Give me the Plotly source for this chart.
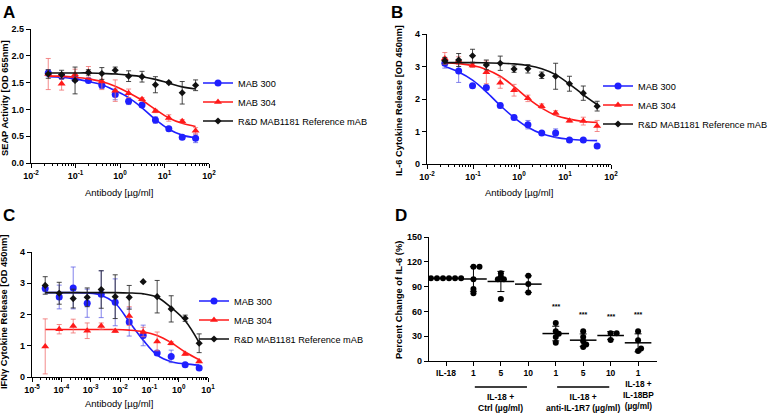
import numpy as np
import plotly.graph_objects as go

FONT = "Liberation Sans, Arial, sans-serif"
W, H = 777, 414

# ---------------- panel A : SEAP activity ----------------
conc_ab = [0.0244, 0.0488, 0.0977, 0.195, 0.391, 0.781, 1.5625, 3.125, 6.25, 12.5, 25, 50]

a_mab300 = [1.68, 1.62, 1.57, 1.54, 1.45, 1.28, 1.15, 1.08, 0.80, 0.64, 0.48, 0.46]
a_mab300_sd = [0.06, 0.05, 0.05, 0.04, 0.06, 0.10, 0.06, 0.03, 0.06, 0.04, 0.04, 0.08]
a_mab300_fit = [1.61, 1.60, 1.57, 1.52, 1.46, 1.35, 1.22, 1.03, 0.81, 0.63, 0.52, 0.47]

a_mab304 = [1.66, 1.48, 1.65, 1.70, 1.52, 1.35, 1.30, 1.19, 0.97, 0.84, 0.78, 0.60]
a_mab304_sd = [0.29, 0.12, 0.10, 0.10, 0.15, 0.20, 0.08, 0.03, 0.03, 0.06, 0.03, 0.06]
a_mab304_fit = [1.62, 1.62, 1.60, 1.57, 1.52, 1.43, 1.31, 1.17, 1.00, 0.84, 0.74, 0.68]

a_ref = [1.66, 1.65, 1.54, 1.69, 1.67, 1.73, 1.62, 1.61, 1.46, 1.50, 1.31, 1.45]
a_ref_sd = [0.08, 0.08, 0.25, 0.05, 0.11, 0.06, 0.10, 0.10, 0.15, 0.02, 0.21, 0.10]
a_ref_fit = [1.68, 1.68, 1.68, 1.68, 1.67, 1.66, 1.64, 1.61, 1.56, 1.49, 1.42, 1.38]

# ---------------- panel B : IL-6 release ----------------
b_mab300 = [3.10, 2.86, 2.41, 2.35, 1.80, 1.43, 1.21, 0.95, 0.95, 0.74, 0.74, 0.55]
b_mab300_sd = [0.15, 0.35, 0.06, 0.07, 0.07, 0.07, 0.13, 0.04, 0.13, 0.04, 0.04, 0.03]
b_mab300_fit = [3.00, 2.83, 2.58, 2.22, 1.80, 1.43, 1.13, 0.93, 0.82, 0.76, 0.73, 0.72]

b_mab304 = [3.25, 3.18, 3.03, 2.82, 2.50, 2.27, 2.02, 1.78, 1.57, 1.33, 1.32, 1.17]
b_mab304_sd = [0.18, 0.12, 0.06, 0.35, 0.17, 0.18, 0.10, 0.07, 0.07, 0.04, 0.12, 0.17]
b_mab304_fit = [3.12, 3.09, 3.03, 2.91, 2.70, 2.38, 2.02, 1.72, 1.50, 1.38, 1.31, 1.28]

b_ref = [3.18, 3.20, 3.33, 3.05, 3.10, 2.92, 2.93, 2.73, 2.70, 2.47, 2.18, 1.78]
b_ref_sd = [0.10, 0.20, 0.20, 0.15, 0.22, 0.10, 0.13, 0.10, 0.40, 0.23, 0.22, 0.15]
b_ref_fit = [3.12, 3.12, 3.12, 3.11, 3.10, 3.08, 3.03, 2.93, 2.75, 2.46, 2.13, 1.83]

# ---------------- panel C : IFNy release ----------------
conc_c = [2.82e-5, 8.47e-5, 2.54e-4, 7.62e-4, 0.00229, 0.00686, 0.0206, 0.0617, 0.185, 0.556, 1.667, 5.0]

c_mab300 = [2.83, 2.56, 2.85, 2.36, 2.65, 2.39, 1.76, 1.33, 0.77, 0.66, 0.39, 0.29]
c_mab300_sd = [0.10, 0.38, 0.67, 0.45, 0.75, 0.75, 0.45, 0.33, 0.08, 0.20, 0.04, 0.05]
c_mab300_fit = [2.70, 2.70, 2.70, 2.69, 2.62, 2.36, 1.77, 1.18, 0.70, 0.49, 0.42, 0.38]

c_mab304 = [0.98, 1.53, 1.63, 1.48, 1.63, 1.47, 1.95, 1.44, 1.14, 1.08, 0.74, 0.50]
c_mab304_sd = [0.88, 0.15, 0.22, 0.25, 0.10, 0.04, 0.30, 0.15, 0.30, 0.05, 0.04, 0.04]
c_mab304_fit = [1.52, 1.52, 1.52, 1.52, 1.52, 1.52, 1.50, 1.45, 1.33, 1.10, 0.80, 0.55]

c_ref = [2.93, 2.68, 2.51, 2.55, 2.80, 2.57, 2.55, 3.05, 2.57, 2.18, 1.88, 1.08]
c_ref_sd = [0.28, 0.35, 0.30, 0.30, 0.60, 0.70, 0.38, 0.0, 0.52, 0.42, 0.10, 0.30]
c_ref_fit = [2.70, 2.70, 2.70, 2.70, 2.70, 2.70, 2.69, 2.66, 2.55, 2.22, 1.80, 1.10]

# ---------------- panel D : percent change of IL-6 ----------------
d_labels = ["IL-18", "1", "5", "10", "1", "5", "10", "1"]
d_values = [
    [100, 100, 100, 100, 100, 100],
    [114, 114, 99, 87, 82],
    [102, 99, 106, 99, 75],
    [103, 93, 83],
    [46, 36, 33, 29, 22],
    [36, 29, 24, 17, 20],
    [33.5, 33.5, 25.5],
    [36, 25, 12, 15],
]
d_stars = ["", "", "", "", "***", "***", "***", "***"]
d_group_text = [
    (1, 3, "IL-18 +<br>Ctrl (µg/ml)"),
    (4, 6, "IL-18 +<br>anti-IL-1R7 (µg/ml)"),
]
d_single_text = (7, "IL-18 +<br>IL-18BP<br>(µg/ml)")

series_names = ["MAB 300", "MAB 304", "R&D MAB1181 Reference mAB"]
series_colors = ["#1f1fff", "#ff1a1a", "#111111"]
series_err = ["rgba(90,90,230,0.75)", "rgba(240,110,110,0.8)", "rgba(40,40,40,0.85)"]
series_symbols = ["circle", "triangle-up", "diamond"]
series_sizes = [7, 7, 5.5]


def px_x(v):
    return v / W


def px_y(v):
    return 1 - v / H


fig = go.Figure()

panels = [
    ("x", "y", "legend", conc_ab,
     [(a_mab300, a_mab300_sd, a_mab300_fit), (a_mab304, a_mab304_sd, a_mab304_fit), (a_ref, a_ref_sd, a_ref_fit)]),
    ("x2", "y2", "legend2", conc_ab,
     [(b_mab300, b_mab300_sd, b_mab300_fit), (b_mab304, b_mab304_sd, b_mab304_fit), (b_ref, b_ref_sd, b_ref_fit)]),
    ("x3", "y3", "legend3", conc_c,
     [(c_mab300, c_mab300_sd, c_mab300_fit), (c_mab304, c_mab304_sd, c_mab304_fit), (c_ref, c_ref_sd, c_ref_fit)]),
]

for xa, ya, leg, conc, series in panels:
    for i, (vals, sd, fit) in enumerate(series):
        fig.add_trace(go.Scatter(
            x=conc, y=fit, mode="lines", line=dict(color=series_colors[i], width=1.6, shape="spline"),
            xaxis=xa, yaxis=ya, showlegend=False, hoverinfo="skip"))
        fig.add_trace(go.Scatter(
            x=conc, y=vals, mode="markers",
            marker=dict(color=series_colors[i], symbol=series_symbols[i], size=series_sizes[i], line=dict(width=0)),
            error_y=dict(type="data", array=sd, color=series_err[i], thickness=1, width=2.5),
            xaxis=xa, yaxis=ya, showlegend=False))
    for i in range(3):
        fig.add_trace(go.Scatter(
            x=[None], y=[None], mode="lines+markers", name=series_names[i],
            line=dict(color=series_colors[i], width=1.6),
            marker=dict(color=series_colors[i], symbol=series_symbols[i], size=series_sizes[i]),
            xaxis=xa, yaxis=ya, legend=leg))


# beeswarm offsets for panel D (pixel based)
def swarm(vals, cat_px=27.4, unit_px=0.827, diam=3.2, step=0.11):
    placed = []
    offs = []
    for v in vals:
        k = 0
        cands = [0]
        for j in range(1, 10):
            cands += [j * step, -j * step]
        for c in cands:
            ok = True
            for (pv, po) in placed:
                dx = (c - po) * cat_px
                dy = (v - pv) * unit_px
                if dx * dx + dy * dy < diam * diam:
                    ok = False
                    break
            if ok:
                k = c
                break
        placed.append((v, k))
        offs.append(k)
    offs = np.array(offs)
    return offs - (offs.max() + offs.min()) / 2 if len(set(vals)) == 1 else offs


dx_all, dy_all, mx, my, msd = [], [], [], [], []
for g, vals in enumerate(d_values):
    offs = swarm(vals)
    dx_all += list(g + offs)
    dy_all += vals
    mx.append(g)
    my.append(float(np.mean(vals)))
    msd.append(float(np.std(vals, ddof=1)))

fig.add_trace(go.Scatter(
    x=mx, y=my, mode="markers",
    marker=dict(symbol="line-ew", size=19, color="black", line=dict(width=1.5, color="black")),
    error_y=dict(type="data", array=msd, color="black", thickness=1, width=3.5),
    xaxis="x4", yaxis="y4", showlegend=False))
fig.add_trace(go.Scatter(
    x=dx_all, y=dy_all, mode="markers", marker=dict(color="black", size=6),
    xaxis="x4", yaxis="y4", showlegend=False))

axis_common = dict(showline=True, linecolor="black", linewidth=1.3, ticks="outside", ticklen=4,
                   tickwidth=1.2, tickcolor="black", showgrid=False, zeroline=False, automargin=False,
                   tickfont=dict(family=FONT, size=9, color="black", weight="bold"))
minor = dict(ticks="outside", ticklen=2, tickwidth=1, tickcolor="black", dtick="D1", showgrid=False)


def log_axis(lo, hi, dom, anchor):
    vals = list(range(lo, hi + 1))
    return dict(axis_common, type="log", range=[lo, hi], domain=dom, anchor=anchor,
                tickvals=[10.0 ** v for v in vals],
                ticktext=["10<sup>%d</sup>" % v for v in vals], minor=minor)


fig.update_layout(
    width=W, height=H, margin=dict(l=0, r=0, t=0, b=0),
    paper_bgcolor="white", plot_bgcolor="white",
    font=dict(family=FONT, color="black"),
    xaxis=log_axis(-2, 2, [px_x(31), px_x(209)], "y"),
    yaxis=dict(axis_common, range=[0, 2.5], dtick=0.5, tickformat=".1f",
               domain=[px_y(163), px_y(29)], anchor="x"),
    xaxis2=log_axis(-2, 2, [px_x(427), px_x(611)], "y2"),
    yaxis2=dict(axis_common, range=[0, 4], dtick=1, domain=[px_y(164), px_y(34)], anchor="x2"),
    xaxis3=log_axis(-5, 1, [px_x(32), px_x(208)], "y3"),
    yaxis3=dict(axis_common, range=[0, 4], dtick=1, domain=[px_y(377), px_y(252)], anchor="x3"),
    xaxis4=dict(axis_common, range=[-0.62, 7.69], tickvals=list(range(len(d_labels))), ticktext=d_labels,
                domain=[px_x(429), px_x(657)], anchor="y4",
                tickfont=dict(family=FONT, size=8.5, color="black", weight="bold")),
    yaxis4=dict(axis_common, range=[0, 150], dtick=30, domain=[px_y(361), px_y(237)], anchor="x4"),
)

leg_common = dict(xanchor="left", yanchor="middle", bgcolor="rgba(0,0,0,0)", itemwidth=30,
                  tracegroupgap=0, font=dict(family=FONT, size=9.2, color="black"))
fig.update_layout(
    legend=dict(leg_common, x=px_x(198), y=px_y(102)),
    legend2=dict(leg_common, x=px_x(598), y=px_y(105)),
    legend3=dict(leg_common, x=px_x(194), y=px_y(320)),
)


def note(text, x, y, size, bold=True, angle=0, xref="paper", yref="paper"):
    return dict(text=text, x=x, y=y, xref=xref, yref=yref, showarrow=False, textangle=angle,
                xanchor="center", yanchor="middle",
                font=dict(family=FONT, size=size, weight="bold" if bold else "normal"))


ann = []
for letter, x, y in [("A", 9, 12), ("B", 397, 12), ("C", 9, 215), ("D", 401, 215)]:
    ann.append(note(letter, px_x(x), px_y(y), 17))
for text, x, y in [("SEAP Activity [OD 655nm]", 5, 98), ("IL-6 Cytokine Release [OD 450nm]", 399, 101),
                   ("IFNγ Cytokine Release [OD 450nm]", 4, 312), ("Percent Change of IL-6 (%)", 399, 300)]:
    ann.append(note(text, px_x(x), px_y(y), 9.3, angle=-90))
for x, y in [(119, 192), (519, 192), (119, 403)]:
    ann.append(note("Antibody [µg/ml]", px_x(x), px_y(y), 9.5, bold=False))

for g, s in enumerate(d_stars):
    if s:
        ann.append(note(s, g, max(d_values[g]) + 20, 7, xref="x4", yref="y4"))

shapes = []
for a, b, text in d_group_text:
    shapes.append(dict(type="line", xref="x4", yref="paper", x0=a + 0.05, x1=b - 0.05,
                       y0=px_y(387), y1=px_y(387), line=dict(color="black", width=1.5)))
    ann.append(note(text, (a + b) / 2, px_y(402), 8.5, xref="x4"))
ann.append(note(d_single_text[1], d_single_text[0], px_y(395), 8.3, xref="x4"))

fig.update_layout(annotations=ann, shapes=shapes)

# the browser's default 8px body margin would shift the whole figure
fig.write_html("out.html", config={"displayModeBar": False},
               post_script="document.body.style.margin='0';")
